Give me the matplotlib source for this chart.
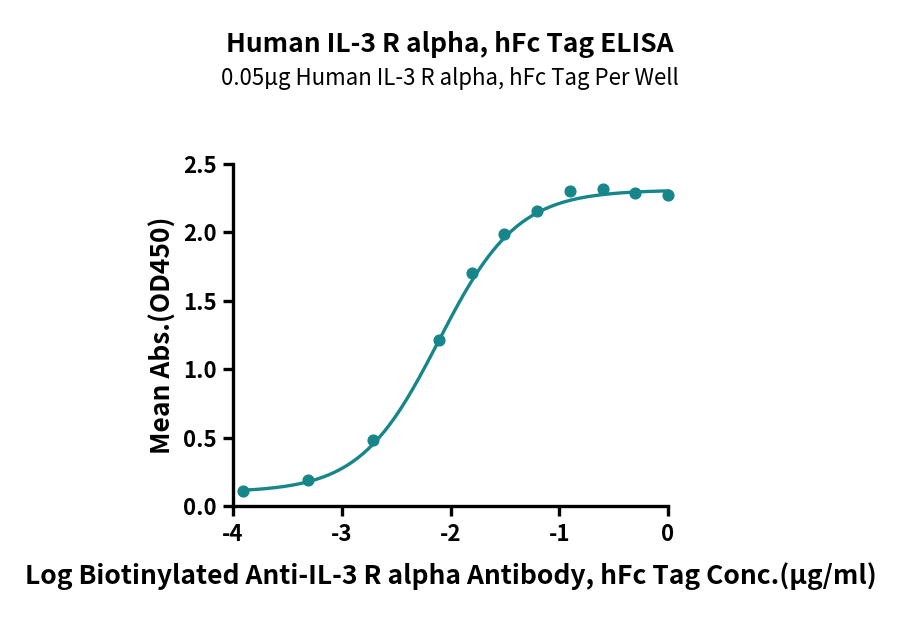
import numpy as np
import matplotlib
matplotlib.use("Agg")
import matplotlib.pyplot as plt

plt.rcParams['font.family'] = ['Noto Sans CJK SC', 'DejaVu Sans']

log_conc = [-3.91, -3.31, -2.71, -2.107, -1.806, -1.505, -1.204, -0.903, -0.602, -0.301, 0.0]
od450 = [0.11, 0.19, 0.48, 1.21, 1.70, 1.99, 2.16, 2.30, 2.32, 2.29, 2.27]

# 4PL fit parameters (bottom, top, logEC50, hill)
fit_bottom, fit_top, fit_logec50, fit_hill = 0.10, 2.31, -2.11, 1.2

title = "Human IL-3 R alpha, hFc Tag ELISA"
subtitle = "0.05\u00b5g Human IL-3 R alpha, hFc Tag Per Well"
xlabel = "Log Biotinylated Anti-IL-3 R alpha Antibody, hFc Tag Conc.(\u00b5g/ml)"
ylabel = "Mean Abs.(OD450)"
xticks = [-4, -3, -2, -1, 0]
yticks = [0.0, 0.5, 1.0, 1.5, 2.0, 2.5]

color = "#17868a"

fig = plt.figure(figsize=(9, 6.18), dpi=100)
ax = fig.add_axes([233/900, 1-506/618, (668-233)/900, (506-164)/618])

xs = np.linspace(min(log_conc), max(log_conc), 300)
ys = fit_bottom + (fit_top - fit_bottom) / (1 + 10 ** ((fit_logec50 - xs) * fit_hill))
ax.plot(xs, ys, color=color, lw=2.4, clip_on=False)
ax.scatter(log_conc, od450, s=60, color=color, zorder=3, clip_on=False)

ax.set_xlim(-4, 0)
ax.set_ylim(0, 2.5)
ax.set_xticks(xticks)
ax.set_xticklabels([str(t) for t in xticks])
ax.set_yticks(yticks)
ax.set_yticklabels([f"{t:.1f}" for t in yticks])
for s in ['top', 'right']:
    ax.spines[s].set_visible(False)
for s in ['left', 'bottom']:
    ax.spines[s].set_linewidth(2.4)
ax.tick_params(width=2.4, length=7, labelsize=16, pad=5)
for lab in ax.get_xticklabels() + ax.get_yticklabels():
    lab.set_fontweight('bold')

ax.set_xlabel(xlabel, fontsize=19, fontweight='bold', labelpad=12)
ax.set_ylabel(ylabel, fontsize=19, fontweight='bold', labelpad=4)

fig.text(0.5, 1-45/618, title, ha='center', va='center', fontsize=19, fontweight='bold')
fig.text(0.5, 1-78/618, subtitle, ha='center', va='center', fontsize=16)

fig.savefig("out.png", dpi=100)
